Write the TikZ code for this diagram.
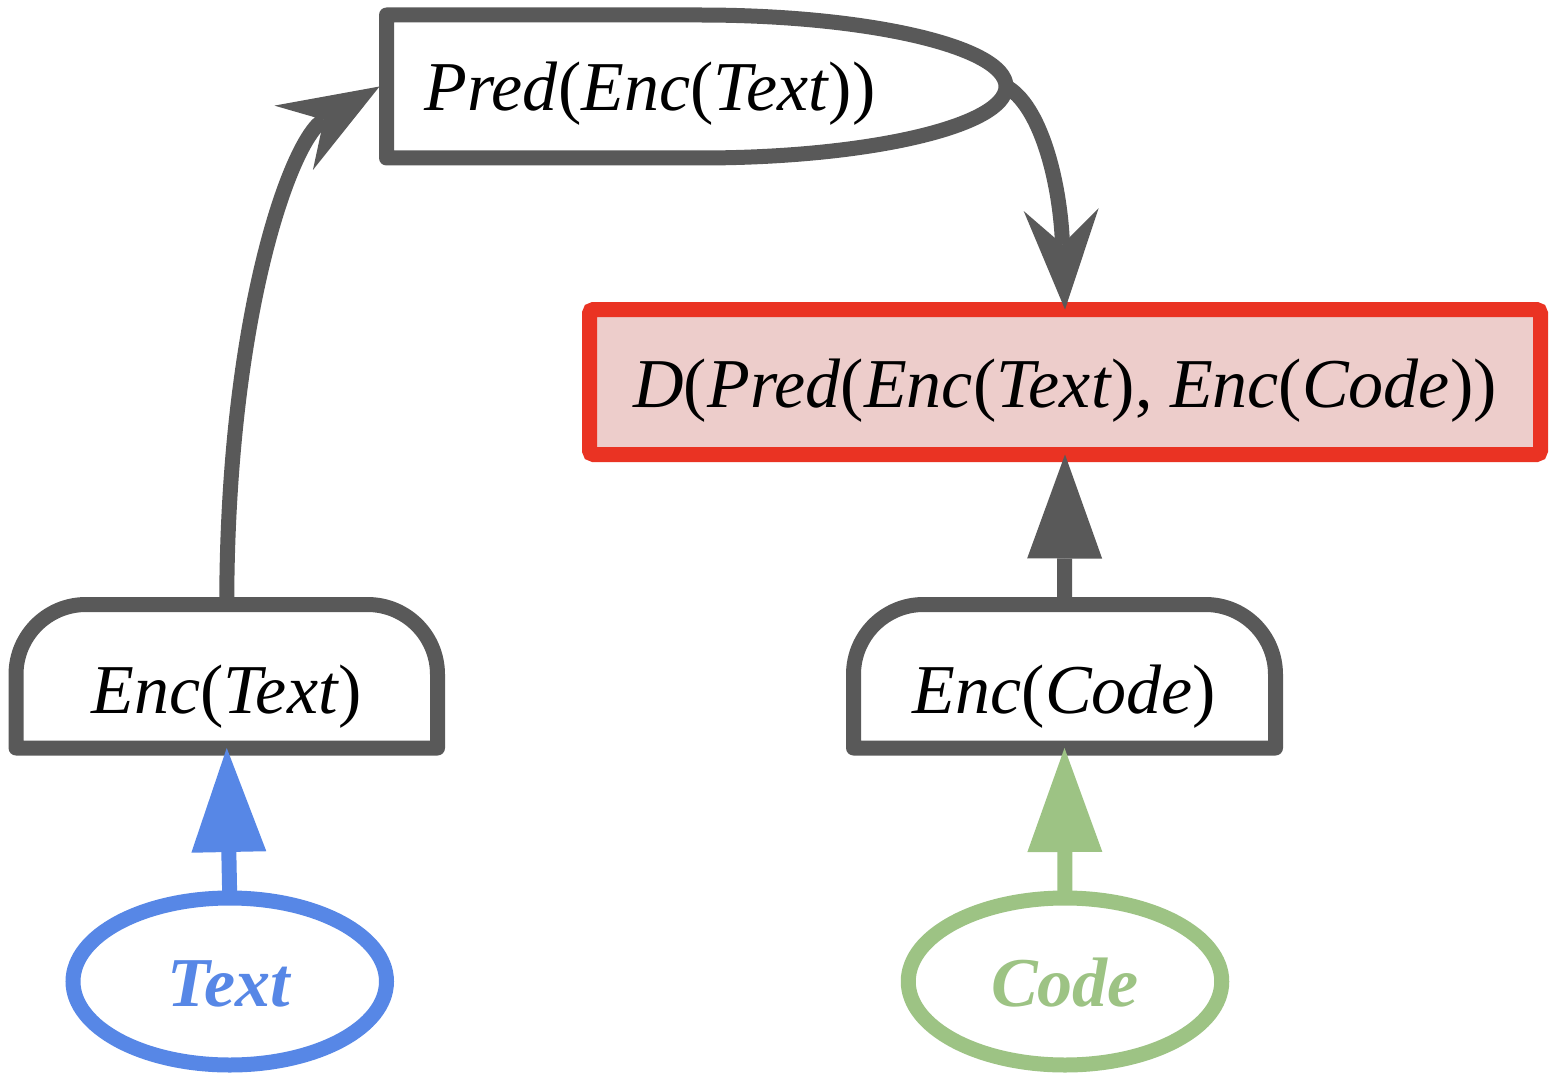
\documentclass[tikz,border=0pt]{standalone}
\usepackage{fontspec}
\setmainfont{Liberation Serif}
\usetikzlibrary{arrows.meta,shapes.geometric}
\definecolor{gr}{RGB}{89,89,89}
\definecolor{redb}{RGB}{234,51,35}
\definecolor{pinkf}{RGB}{237,205,203}
\definecolor{blu}{RGB}{87,135,230}
\definecolor{grn}{RGB}{157,195,132}
\tikzset{
  bigfont/.style={font=\fontsize{70pt}{80pt}\selectfont},
  gline/.style={draw=gr, line width=15pt, line join=round},
  stealtharrow/.style={gline, -{Stealth[length=100pt, width=75pt, inset=35pt, line width=0pt]}},
  triarrow/.style={line width=15pt, -{Triangle[length=104pt, width=75pt, line width=0pt]}},
  shapenode/.style={draw=none, inner sep=0pt, outer sep=0pt, rectangle},
  ell/.style={ellipse, draw, line width=15pt, fill=white, inner sep=0pt, outer sep=0pt,
    minimum width=313.5pt, minimum height=167pt, text height=60pt, text depth=11pt, bigfont},
}
\begin{document}
\begin{tikzpicture}[x=1pt, y=-1pt]
\useasboundingbox (0,0) rectangle (1558,1078);

% Pred box
\node[shapenode, minimum width=619.5pt, minimum height=143pt] (pred) at (696.25,86.5) {};
\draw[gline] (pred.north west) -- ([xshift=-306pt]pred.north east)
  arc[start angle=90, end angle=-90, x radius=306pt, y radius=71.5pt]
  -- (pred.south west) -- cycle;
\node[bigfont, anchor=base, inner sep=0pt] (predtext) at (650,111) {\textit{Pred}(\textit{Enc}(\textit{Text}))};

% D box
\node[draw=redb, fill=pinkf, line width=15pt, rounded corners=4pt, inner sep=0pt, outer sep=0pt,
  minimum width=951pt, minimum height=145pt, text height=60pt, text depth=10pt, bigfont]
  (d) at (1065,382) {\textit{D}(\textit{Pred}(\textit{Enc}(\textit{Text}), \textit{Enc}(\textit{Code}))};

% Enc boxes
\node[shapenode, minimum width=421.5pt, minimum height=143.5pt, text height=80pt, text depth=6.5pt, bigfont]
  (enct) at (226.75,676.25) {\textit{Enc}(\textit{Text})};
\node[shapenode, minimum width=422pt, minimum height=143.5pt, text height=80pt, text depth=6.5pt, bigfont]
  (encc) at (1064.5,676.25) {\textit{Enc}(\textit{Code})};
\foreach \n in {enct,encc}{
  \draw[gline] (\n.south west) -- ([yshift=-70pt]\n.north west)
    arc[start angle=180, end angle=90, radius=70pt]
    -- ([xshift=-70pt]\n.north east)
    arc[start angle=90, end angle=0, radius=70pt]
    -- (\n.south east) -- cycle;
}

% Ellipses
\node[ell, draw=blu, text=blu] (textell) at (229.75,981.5) {\textbf{\textit{Text}}};
\node[ell, draw=grn, text=grn] (codeell) at (1065,981.5) {\textbf{\textit{Code}}};

% Connectors
\draw[stealtharrow] (enct.north) .. controls (227,320) and (290,140) .. ([xshift=-7pt]pred.west);
\draw[stealtharrow] (pred.east) .. controls (1040,105) and (1060,180) .. (d.north);
\draw[triarrow, draw=gr, fill=gr] (encc.north) -- (d.south);
\draw[triarrow, draw=blu, fill=blu] (textell.north) -- (enct.south);
\draw[triarrow, draw=grn, fill=grn] (codeell.north) -- (encc.south);
\end{tikzpicture}
\end{document}
